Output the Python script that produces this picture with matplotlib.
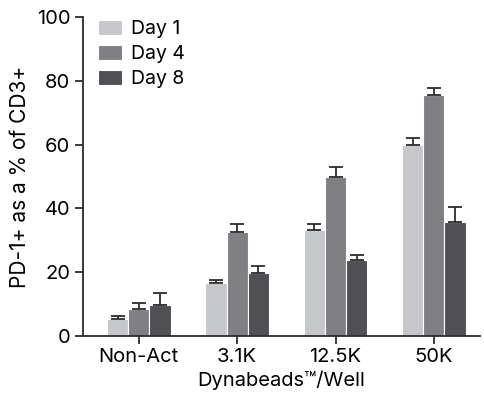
import numpy as np
import matplotlib
matplotlib.use("Agg")
import matplotlib.pyplot as plt

plt.rcParams['font.family'] = ['Inter', 'DejaVu Sans']

# data
categories = ['Non-Act', '3.1K', '12.5K', '50K']
series = ['Day 1', 'Day 4', 'Day 8']
day1 = [5.4, 16.6, 33.2, 59.9]
day4 = [8.5, 32.6, 49.8, 75.5]
day8 = [9.8, 19.7, 23.8, 35.7]
day1_err = [0.8, 1.0, 2.0, 2.1]
day4_err = [1.7, 2.4, 3.2, 2.4]
day8_err = [3.5, 2.3, 1.7, 4.6]

colors = ['#c6c7ca', '#808084', '#505054']

fig = plt.figure(figsize=(4.84, 3.97), dpi=100)
ax = fig.add_axes([0.171, 0.154, 0.821, 0.803])

x = np.arange(len(categories))
w = 0.215
vals = [day1, day4, day8]
errs = [day1_err, day4_err, day8_err]
for i in range(3):
    pos = x + (i - 1) * w
    ax.bar(pos, vals[i], w, color=colors[i], edgecolor='white', linewidth=0.8,
           label=series[i], zorder=2)
    ax.errorbar(pos, vals[i], yerr=[np.zeros(4), errs[i]], fmt='none',
                ecolor='#2b2b2b', elinewidth=1.3, capsize=5, capthick=1.3, zorder=3)

ax.set_xlim(-0.57, 3.47)
ax.set_ylim(0, 100)
ax.set_yticks([0, 20, 40, 60, 80, 100])
ax.set_xticks(x)
ax.set_xticklabels(categories)
ax.tick_params(labelsize=14.5, length=6, width=1.3, color='#2b2b2b', pad=3)
for s in ['top', 'right']:
    ax.spines[s].set_visible(False)
for s in ['left', 'bottom']:
    ax.spines[s].set_color('#2b2b2b')
    ax.spines[s].set_linewidth(1.3)

ax.set_ylabel('PD-1+ as a % of CD3+', fontsize=15, labelpad=5)
ax.set_xlabel('Dynabeads\u2122/Well', fontsize=14.5, labelpad=3)

ax.legend(loc='upper left', bbox_to_anchor=(-0.005, 1.045), frameon=False,
          fontsize=14, handlelength=1.2, handleheight=0.8, labelspacing=0.35,
          handletextpad=0.5)

fig.savefig('out.png', dpi=100)
